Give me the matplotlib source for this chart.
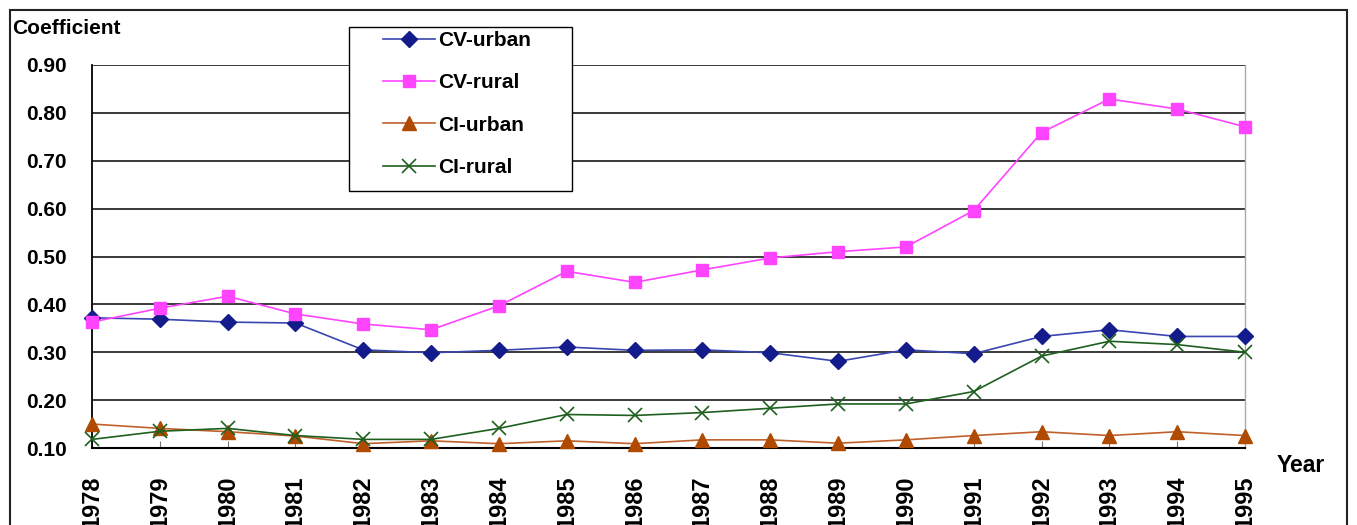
import matplotlib.pyplot as plt
from matplotlib.patches import Rectangle

plt.rcParams['font.family'] = ['Liberation Sans', 'DejaVu Sans']

years = list(range(1978, 1996))
cv_urban = [0.372, 0.369, 0.363, 0.361, 0.305, 0.299, 0.304, 0.311, 0.304,
            0.305, 0.299, 0.281, 0.305, 0.297, 0.333, 0.347, 0.333, 0.333]
cv_rural = [0.363, 0.392, 0.417, 0.380, 0.359, 0.347, 0.397, 0.469, 0.446,
            0.472, 0.497, 0.510, 0.520, 0.596, 0.759, 0.829, 0.808, 0.771]
ci_urban = [0.150, 0.141, 0.134, 0.125, 0.109, 0.115, 0.109, 0.115, 0.109,
            0.117, 0.117, 0.110, 0.117, 0.126, 0.134, 0.126, 0.134, 0.126]
ci_rural = [0.118, 0.135, 0.141, 0.126, 0.118, 0.118, 0.141, 0.170, 0.168,
            0.174, 0.183, 0.192, 0.192, 0.218, 0.292, 0.323, 0.316, 0.300]
yticks = [0.10, 0.20, 0.30, 0.40, 0.50, 0.60, 0.70, 0.80, 0.90]

W, H = 1357, 525
fig = plt.figure(figsize=(W / 100, H / 100), dpi=100)
ax = fig.add_axes([92 / W, 77 / H, 1153 / W, 383 / H])

# grid lines drawn first so the series sit on top
for v in yticks:
    ax.axhline(v, color='#3a3a3a', lw=1.4, zorder=1)

ax.plot(years, cv_urban, color='#3a46b0', lw=1.2, marker='D', ms=8,
        mfc='#141c8c', mec='#141c8c', label='CV-urban', clip_on=False, zorder=3)
ax.plot(years, cv_rural, color='#ff44ff', lw=1.2, marker='s', ms=9,
        mfc='#ff44ff', mec='#ff44ff', label='CV-rural', clip_on=False, zorder=3)
ax.plot(years, ci_urban, color='#c0602a', lw=1.2, marker='^', ms=10,
        mfc='#b04a00', mec='#b04a00', label='CI-urban', clip_on=False, zorder=3)
ax.plot(years, ci_rural, color='#1f5f1f', lw=1.2, marker='x', ms=10, mew=1.2,
        mfc='#1f5f1f', mec='#1f5f1f', label='CI-rural', clip_on=False, zorder=3)

ax.set_xlim(1978, 1995)
ax.set_ylim(0.10, 0.90)
ax.set_yticks(yticks)
ax.set_yticklabels([f'{v:.2f}' for v in yticks], fontsize=15, fontweight='bold')
ax.set_xticks(years)
ax.set_xticklabels([str(y) for y in years], rotation=90, fontsize=17,
                   fontweight='bold', va='top')
ax.tick_params(axis='y', length=0, pad=18)
ax.tick_params(axis='x', direction='in', length=5, color='#777777', pad=20)

ax.spines['top'].set_visible(False)
ax.spines['left'].set_color('black')
ax.spines['left'].set_linewidth(1.3)
ax.spines['bottom'].set_color('black')
ax.spines['bottom'].set_linewidth(1.5)
ax.spines['right'].set_color('#aaaaaa')
ax.spines['right'].set_linewidth(1.0)

fig.text(12 / W, 1 - 28 / H, 'Coefficient', fontsize=15, fontweight='bold',
         ha='left', va='center')
fig.text(1277 / W, 1 - 465 / H, 'Year', fontsize=16.5, fontweight='bold',
         ha='left', va='center')

# legend box drawn separately, legend itself frameless
fig.patches.append(Rectangle((349 / W, 1 - 191 / H), 223 / W, 164 / H,
                             transform=fig.transFigure, facecolor='white',
                             edgecolor='black', lw=1.0, zorder=4))
leg = fig.legend(loc='upper left', bbox_to_anchor=(383 / W, 1 - 31 / H),
                 prop={'weight': 'bold', 'size': 15}, frameon=False,
                 handlelength=2.5, labelspacing=1.12, borderpad=0,
                 handletextpad=0.15, borderaxespad=0)
leg.set_zorder(5)

# outer chart border (cut off at the bottom in the original)
fig.patches.append(Rectangle((10 / W, -0.2), 1337 / W, 1.2 - 10 / H,
                             transform=fig.transFigure, fill=False,
                             edgecolor='#222222', lw=1.5))

fig.savefig('out.png', dpi=100)
